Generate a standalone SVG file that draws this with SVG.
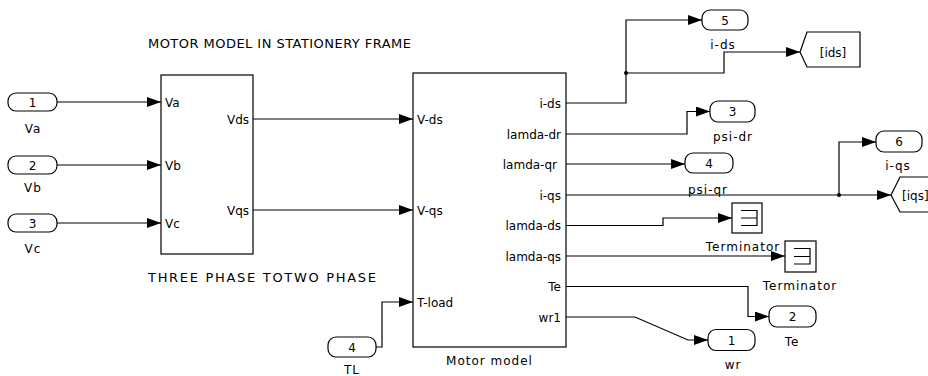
<svg xmlns="http://www.w3.org/2000/svg" width="928" height="376" viewBox="0 0 928 376">
<defs>
<marker id="arr" markerUnits="userSpaceOnUse" markerWidth="14" markerHeight="10" refX="14" refY="5" orient="auto">
<path d="M0 0 L14 5 L0 10 z" fill="#000"/>
</marker>
</defs>
<style>
text{font-family:"DejaVu Sans","Liberation Sans",sans-serif;font-size:12px;fill:#000}
.title{font-size:13px}
.blk{fill:#fff;stroke:#000;stroke-width:1.2}
.port{fill:#fff;stroke:#000;stroke-width:1.2}
.name{letter-spacing:1px;text-anchor:middle}
.num{text-anchor:middle}
.end{text-anchor:end}
.wire{fill:none;stroke:#000;stroke-width:1.2}
.arr{marker-end:url(#arr)}
</style>
<rect width="928" height="376" fill="#fff"/>
<text class="title" x="148" y="48" textLength="263" lengthAdjust="spacing">MOTOR MODEL IN STATIONERY FRAME</text>

<g id="connectors">
<path class="wire arr" d="M57 102 H161"/>
<path class="wire arr" d="M57 165 H161"/>
<path class="wire arr" d="M57 223 H161"/>
<path class="wire arr" d="M253 119 H413"/>
<path class="wire arr" d="M253 210 H413"/>
<path class="wire arr" d="M376 347 H382 V302 H413"/>
<path class="wire arr" d="M566 103 H626 V20 H702"/>
<path class="wire arr" d="M626 73 H724 V52 H800"/>
<circle cx="626" cy="73" r="2" fill="#000"/>
<path class="wire arr" d="M566 134 H687 V111.5 H710"/>
<path class="wire arr" d="M566 164 H685"/>
<path class="wire arr" d="M566 195 H891"/>
<path class="wire arr" d="M839 195 V142 H876"/>
<circle cx="839" cy="195" r="2" fill="#000"/>
<path class="wire arr" d="M566 225.5 H663 V218 H732"/>
<path class="wire arr" d="M566 256 H785"/>
<path class="wire arr" d="M566 286.5 H748 V316.5 H769"/>
<path class="wire arr" d="M566 317 H635 L688 340 H708"/>
</g>

<g id="in1">
<rect class="port" x="8" y="93" width="49" height="18" rx="8"/>
<text class="num" x="32.5" y="106.5">1</text>
<text class="name" x="33" y="132.5">Va</text>
</g>
<g id="in2">
<rect class="port" x="8" y="156" width="49" height="18" rx="8"/>
<text class="num" x="32.5" y="169.5">2</text>
<text class="name" x="33" y="191.5">Vb</text>
</g>
<g id="in3">
<rect class="port" x="8" y="214" width="49" height="18" rx="8"/>
<text class="num" x="32.5" y="227.5">3</text>
<text class="name" x="33" y="252.5">Vc</text>
</g>

<g id="three_phase">
<rect class="blk" x="161" y="75" width="92" height="179"/>
<text x="165" y="106.5">Va</text>
<text x="165" y="169.5">Vb</text>
<text x="165" y="227.5">Vc</text>
<text class="end" x="249" y="123.5">Vds</text>
<text class="end" x="249" y="214.5">Vqs</text>
<text class="title" x="148" y="281.5" textLength="228" lengthAdjust="spacing">THREE PHASE TOTWO PHASE</text>
</g>

<g id="in4">
<rect class="port" x="328" y="337" width="48" height="20" rx="8"/>
<text class="num" x="352" y="351.5">4</text>
<text class="name" x="352" y="374">TL</text>
</g>

<g id="motor_model">
<rect class="blk" x="413" y="73" width="153" height="274"/>
<text x="417" y="123.5">V-ds</text>
<text x="417" y="214.5">V-qs</text>
<text x="417" y="306.5">T-load</text>
<text class="end" x="561" y="107.5">i-ds</text>
<text class="end" x="561" y="138.5">lamda-dr</text>
<text class="end" x="557" y="168.5">lamda-qr</text>
<text class="end" x="561" y="199.5">i-qs</text>
<text class="end" x="561" y="230">lamda-ds</text>
<text class="end" x="561" y="260.5">lamda-qs</text>
<text class="end" x="561" y="291">Te</text>
<text class="end" x="561" y="321.5">wr1</text>
<text class="name" x="489.5" y="364.5">Motor model</text>
</g>

<g id="out5">
<rect class="port" x="702" y="10" width="46" height="20" rx="8"/>
<text class="num" x="725" y="24.5">5</text>
<text class="name" x="723" y="49">i-ds</text>
</g>
<g id="goto_ids">
<polygon class="blk" points="800,52 807,32 860,32 860,67 807,67"/>
<text class="num" x="833" y="56.5">[ids]</text>
</g>
<g id="out3">
<rect class="port" x="710" y="101" width="45" height="21" rx="8"/>
<text class="num" x="732.5" y="116">3</text>
<text class="name" x="733" y="141">psi-dr</text>
</g>
<g id="out4">
<rect class="port" x="685" y="153" width="48" height="20" rx="8"/>
<text class="num" x="709" y="167.5">4</text>
<text class="name" x="708" y="194">psi-qr</text>
</g>
<g id="out6">
<rect class="port" x="876" y="131" width="46" height="21" rx="8"/>
<text class="num" x="899" y="146">6</text>
<text class="name" x="898" y="170">i-qs</text>
</g>
<g id="goto_iqs">
<polygon class="blk" points="891,195 900,177 934,177 934,212 900,212"/>
<text x="902" y="199.5">[iqs]</text>
</g>
<g id="terminator1">
<rect class="blk" x="732" y="203" width="30" height="30"/>
<path class="wire" d="M741 210.5 H757 V225.5 H741 M741 218 H757"/>
<text class="name" x="743" y="251">Terminator</text>
</g>
<g id="terminator2">
<rect class="blk" x="785" y="241" width="31" height="31"/>
<path class="wire" d="M794 248.5 H810 V264 H794 M794 256.5 H810"/>
<text class="name" x="800" y="289.5">Terminator</text>
</g>
<g id="out2">
<rect class="port" x="769" y="306" width="47" height="21" rx="8"/>
<text class="num" x="792.5" y="321">2</text>
<text class="name" x="792" y="346">Te</text>
</g>
<g id="out1">
<rect class="port" x="708" y="329.5" width="47" height="21" rx="8"/>
<text class="num" x="731.5" y="344.5">1</text>
<text class="name" x="733" y="369">wr</text>
</g>
</svg>
